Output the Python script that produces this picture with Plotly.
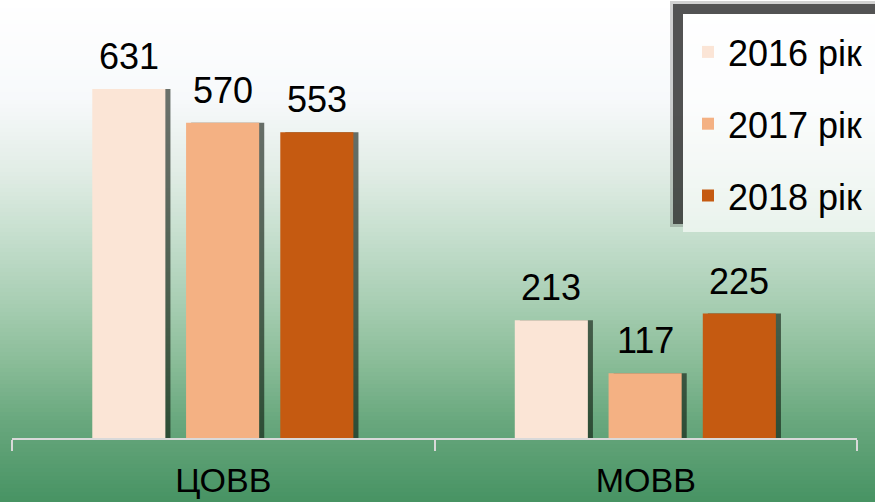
import plotly.graph_objects as go

# Дані
categories = ["ЦОВВ", "МОВВ"]
years = ["2016 рік", "2017 рік", "2018 рік"]
values_2016 = [631, 213]
values_2017 = [570, 117]
values_2018 = [553, 225]
series = [values_2016, values_2017, values_2018]
colors = ["#FBE5D6", "#F4B183", "#C55A11"]

# Геометрія стовпців (у частках категорії)
bar_width = 0.173
offsets = [-0.310, -0.088, 0.135]
shadow_dx = 0.012

fig = go.Figure()

# тіні стовпців
for vals, off in zip(series, offsets):
    fig.add_trace(go.Bar(
        x=categories, y=vals, width=bar_width, offset=off + shadow_dx,
        marker=dict(color="rgba(10,20,10,0.6)", line=dict(width=0)),
        showlegend=False, hoverinfo="skip"
    ))

for name, vals, col, off in zip(years, series, colors, offsets):
    fig.add_trace(go.Bar(
        x=categories, y=vals, name=name, width=bar_width, offset=off,
        marker=dict(color=col, line=dict(width=0)), legendgroup=name
    ))

# підписи значень
for vals, off in zip(series, offsets):
    for i, v in enumerate(vals):
        fig.add_annotation(
            x=i + off + bar_width / 2, y=v, text=str(v), showarrow=False,
            yanchor="bottom", yshift=10,
            font=dict(family="Liberation Sans, Arial", size=36, color="black")
        )

# фон-градієнт (смуги)
stops = [(0, (255, 255, 255)), (100, (247, 249, 251)), (170, (226, 237, 230)),
         (230, (200, 224, 208)), (300, (169, 207, 180)), (360, (139, 189, 153)),
         (420, (105, 168, 126)), (502, (71, 147, 99))]


def color_at(py):
    for (y0, c0), (y1, c1) in zip(stops[:-1], stops[1:]):
        if y0 <= py <= y1:
            t = (py - y0) / (y1 - y0)
            return "rgb(%d,%d,%d)" % tuple(round(a + (b - a) * t) for a, b in zip(c0, c1))
    return "rgb(%d,%d,%d)" % stops[-1][1]


plot_top, plot_bottom, plot_left, plot_right = 0, 438, 12, 857
H = plot_bottom - plot_top
W = plot_right - plot_left


def px_to_paper_y(py):
    return (plot_bottom - py) / H


def px_to_paper_x(px):
    return (px - plot_left) / W


shapes = []
step = 4
for py in range(0, 504, step):
    shapes.append(dict(
        type="rect", xref="paper", yref="paper", layer="below",
        x0=px_to_paper_x(-2), x1=px_to_paper_x(877),
        y0=px_to_paper_y(py + step + 0.5), y1=px_to_paper_y(py),
        fillcolor=color_at(py + step / 2), line=dict(width=0)
    ))

# рамка легенди з тінню ліворуч і зверху
lg_left, lg_top, lg_bottom = 683, 14, 232
shapes.append(dict(
    type="rect", xref="paper", yref="paper", layer="below",
    x0=px_to_paper_x(lg_left), x1=px_to_paper_x(880),
    y0=px_to_paper_y(lg_bottom), y1=px_to_paper_y(lg_top),
    fillcolor="rgba(255,255,255,0.6)", line=dict(width=0)
))
for grow, alpha in [(3, 0.2), (0, 0.7)]:
    # зверху
    shapes.append(dict(
        type="rect", xref="paper", yref="paper", layer="below",
        x0=px_to_paper_x(lg_left - 10 - grow), x1=px_to_paper_x(880),
        y0=px_to_paper_y(lg_top), y1=px_to_paper_y(lg_top - 10 - grow),
        fillcolor="rgba(30,30,30,%s)" % alpha, line=dict(width=0)
    ))
    # ліворуч
    shapes.append(dict(
        type="rect", xref="paper", yref="paper", layer="below",
        x0=px_to_paper_x(lg_left - 10 - grow), x1=px_to_paper_x(lg_left),
        y0=px_to_paper_y(lg_bottom - 8 + grow), y1=px_to_paper_y(lg_top),
        fillcolor="rgba(30,30,30,%s)" % alpha, line=dict(width=0)
    ))

fig.update_layout(
    width=875, height=502,
    barmode="overlay",
    shapes=shapes,
    paper_bgcolor="white",
    plot_bgcolor="rgba(0,0,0,0)",
    margin=dict(l=plot_left, r=875 - plot_right, t=plot_top, b=502 - plot_bottom),
    font=dict(family="Liberation Sans, Arial", color="black"),
    legend=dict(
        x=px_to_paper_x(lg_left + 5), y=px_to_paper_y(lg_top + 8), xanchor="left", yanchor="top",
        bgcolor="rgba(0,0,0,0)", borderwidth=0,
        font=dict(size=36), tracegroupgap=22, itemwidth=30
    ),
    showlegend=True,
)
fig.update_xaxes(
    showline=True, linecolor="#d9d9d9", linewidth=2, automargin=False,
    ticks="outside", tickson="boundaries", ticklen=11, tickcolor="#d9d9d9", tickwidth=2,
    tickfont=dict(family="Liberation Sans Narrow, Liberation Sans", size=34),
    ticklabelstandoff=11, showgrid=False
)
fig.update_yaxes(range=[0, 792], visible=False, showgrid=False, zeroline=False)

# прибрати типовий відступ body, щоб фігура стала в кут вікна
fig.write_html("out.html", config={"displayModeBar": False},
               post_script="document.body.style.margin='0';")
